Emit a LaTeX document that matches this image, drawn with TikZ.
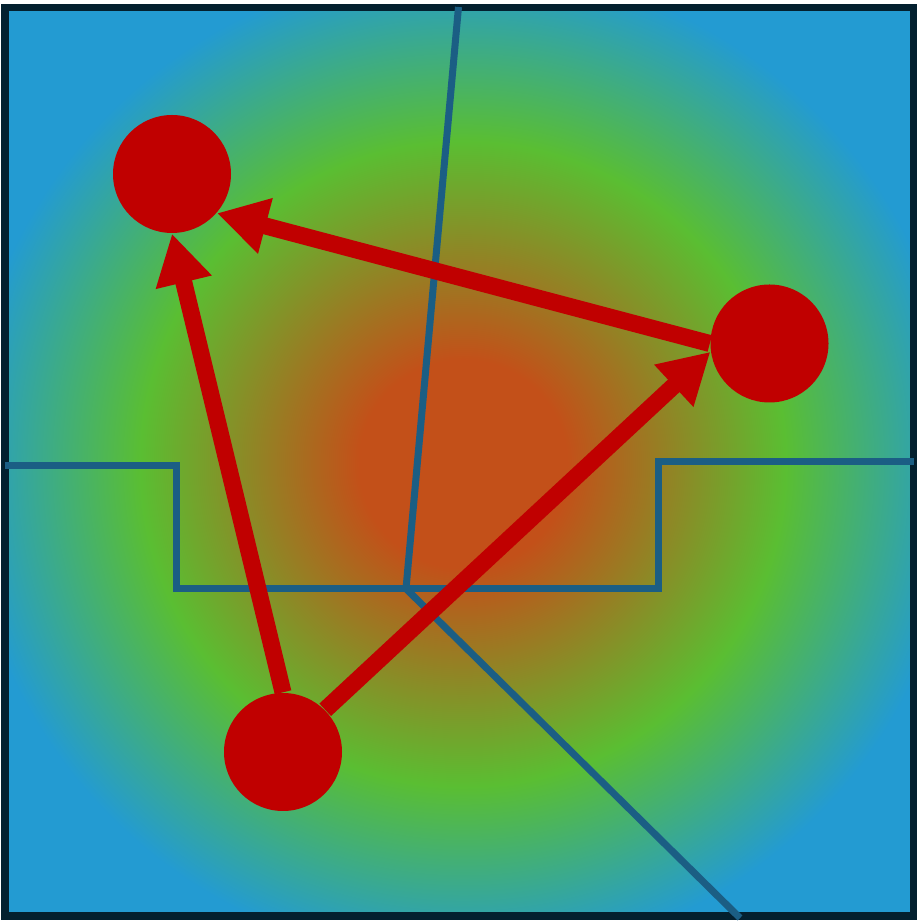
\documentclass[tikz,border=0pt]{standalone}
\usepackage{tikz}
\usetikzlibrary{arrows.meta}
\definecolor{fieldred}{HTML}{C35019}
\definecolor{fieldgreen}{HTML}{5ABE32}
\definecolor{fieldblue}{HTML}{239BD2}
\definecolor{framedark}{HTML}{03202F}
\definecolor{wallblue}{HTML}{1B5E84}
\definecolor{agentred}{HTML}{C00000}
\pgfdeclareradialshading{field}{\pgfpoint{0bp}{0bp}}{color(0bp)=(fieldred); color(4bp)=(fieldred); color(12.4bp)=(fieldgreen); color(19.2bp)=(fieldblue); color(50bp)=(fieldblue)}

\begin{document}
\begin{tikzpicture}[
  agent/.style={circle, fill=agentred, inner sep=0pt, minimum size=1.18cm},
  wall/.style={line width=0.07cm, color=wallblue},
  arr/.style={-{Triangle[length=0.5cm,width=0.54cm]}, line width=0.17cm, color=agentred}
]
\useasboundingbox (0,0) rectangle (9.21,9.21);
% field
\begin{scope}
\clip (0.05,0.05) rectangle (9.135,9.135);
\shade[shading=field] (4.63,4.57) circle (6.5);
\end{scope}
\draw[line width=0.07cm, color=framedark] (0.05,0.05) rectangle (9.135,9.135);
% walls
\coordinate (jn) at (4.06,3.323);
\draw[wall] (0.05,4.55) -- (1.765,4.55) -- (1.765,3.323) -- (6.58,3.323) -- (6.58,4.596) -- (9.14,4.596);
\draw[wall] (4.585,9.14) -- (jn);
\draw[wall] (jn) -- (7.40,0.03);
% agents
\node[agent] (pA) at (1.72,7.47) {};
\node[agent] (pB) at (7.695,5.775) {};
\node[agent] (pC) at (2.83,1.69) {};
% arrows
\draw[arr] (pC.north) -- (pA.south);
\draw[arr] (pC.north east) -- (pB.188);
\draw[arr] (pB.west) -- (pA.-41);
\end{tikzpicture}
\end{document}
